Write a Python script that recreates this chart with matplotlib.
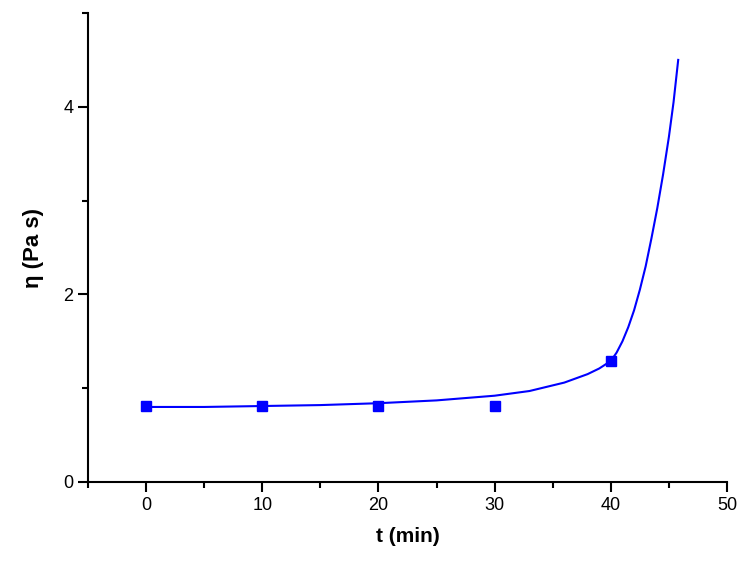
import matplotlib.pyplot as plt
from matplotlib.ticker import MultipleLocator

plt.rcParams["font.family"] = "Liberation Sans"

# measured points
t_pts = [0, 10, 20, 30, 40]
eta_pts = [0.81, 0.81, 0.81, 0.81, 1.29]

# fitted curve
t_fit = [0, 5, 10, 15, 20, 25, 30, 33, 36, 38, 39, 40, 40.5, 41, 41.5, 42, 42.5,
         43, 43.5, 44, 44.5, 45, 45.4, 45.8]
eta_fit = [0.80, 0.80, 0.81, 0.82, 0.84, 0.87, 0.92, 0.97, 1.06, 1.15, 1.21, 1.29,
           1.38, 1.50, 1.65, 1.83, 2.05, 2.30, 2.60, 2.92, 3.28, 3.68, 4.05, 4.50]

fig = plt.figure(figsize=(7.40, 5.68), dpi=100)
ax = fig.add_axes([88 / 740, 1 - 482 / 568, (727 - 88) / 740, (482 - 13) / 568])
ax.plot(t_fit, eta_fit, color="#0000ff", lw=1.5)
ax.plot(t_pts, eta_pts, "s", color="#0000ff", ms=7)

ax.set_xlim(-5, 50)
ax.set_ylim(0, 5)
ax.xaxis.set_major_locator(MultipleLocator(10))
ax.xaxis.set_minor_locator(MultipleLocator(5))
ax.yaxis.set_major_locator(MultipleLocator(2))
ax.yaxis.set_minor_locator(MultipleLocator(1))
for s in ["top", "right"]:
    ax.spines[s].set_visible(False)
for s in ["left", "bottom"]:
    ax.spines[s].set_linewidth(1.5)
ax.tick_params(which="major", direction="out", length=7, width=1.5, labelsize=13)
ax.tick_params(which="minor", direction="out", length=4, width=1.5)
ax.set_xlabel("t (min)", fontsize=15, fontweight="bold", labelpad=10)
ax.set_ylabel("η (Pa s)", fontsize=16, fontweight="bold", labelpad=14)

fig.savefig("out.png", dpi=100)
